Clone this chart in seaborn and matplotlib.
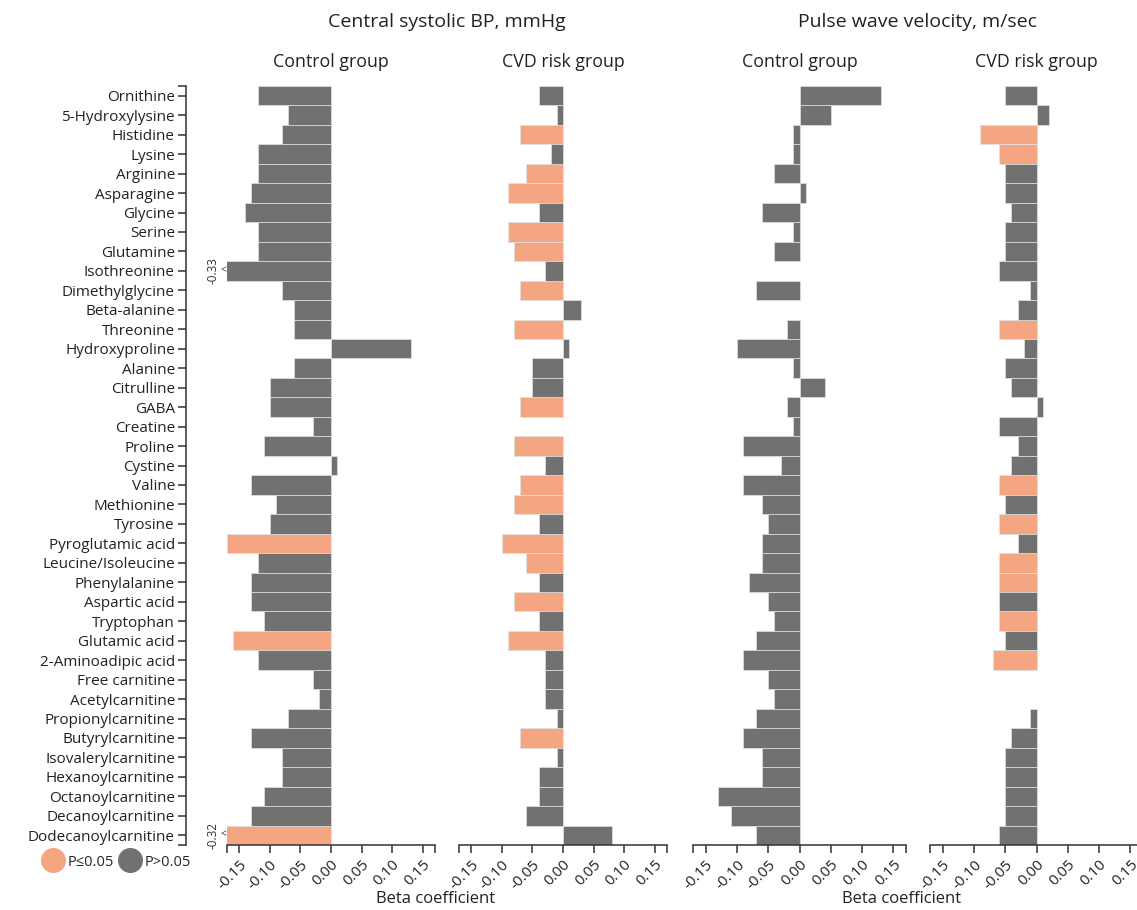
import numpy as np
import pandas as pd
import seaborn as sns
import matplotlib.pyplot as plt
from matplotlib.lines import Line2D

# metabolites, top to bottom
metabolites = [
    'Ornithine', '5-Hydroxylysine', 'Histidine', 'Lysine', 'Arginine', 'Asparagine',
    'Glycine', 'Serine', 'Glutamine', 'Isothreonine', 'Dimethylglycine', 'Beta-alanine',
    'Threonine', 'Hydroxyproline', 'Alanine', 'Citrulline', 'GABA', 'Creatine', 'Proline',
    'Cystine', 'Valine', 'Methionine', 'Tyrosine', 'Pyroglutamic acid', 'Leucine/Isoleucine',
    'Phenylalanine', 'Aspartic acid', 'Tryptophan', 'Glutamic acid', '2-Aminoadipic acid',
    'Free carnitine', 'Acetylcarnitine', 'Propionylcarnitine', 'Butyrylcarnitine',
    'Isovalerylcarnitine', 'Hexanoylcarnitine', 'Octanoylcarnitine', 'Decanoylcarnitine',
    'Dodecanoylcarnitine',
]

nan = np.nan

# Central systolic BP, control group
csbp_control = [-0.12, -0.07, -0.08, -0.12, -0.12, -0.13, -0.14, -0.12, -0.12, -0.33,
                -0.08, -0.06, -0.06, 0.13, -0.06, -0.10, -0.10, -0.03, -0.11, 0.01,
                -0.13, -0.09, -0.10, -0.17, -0.12, -0.13, -0.13, -0.11, -0.16, -0.12,
                -0.03, -0.02, -0.07, -0.13, -0.08, -0.08, -0.11, -0.13, -0.32]
csbp_control_sig = [0, 0, 0, 0, 0, 0, 0, 0, 0, 0, 0, 0, 0, 0, 0, 0, 0, 0, 0, 0,
                    0, 0, 0, 1, 0, 0, 0, 0, 1, 0, 0, 0, 0, 0, 0, 0, 0, 0, 1]

# Central systolic BP, CVD risk group
csbp_cvd = [-0.04, -0.01, -0.07, -0.02, -0.06, -0.09, -0.04, -0.09, -0.08, -0.03,
            -0.07, 0.03, -0.08, 0.01, -0.05, -0.05, -0.07, nan, -0.08, -0.03,
            -0.07, -0.08, -0.04, -0.10, -0.06, -0.04, -0.08, -0.04, -0.09, -0.03,
            -0.03, -0.03, -0.01, -0.07, -0.01, -0.04, -0.04, -0.06, 0.08]
csbp_cvd_sig = [0, 0, 1, 0, 1, 1, 0, 1, 1, 0, 1, 0, 1, 0, 0, 0, 1, 0, 1, 0,
                1, 1, 0, 1, 1, 0, 1, 0, 1, 0, 0, 0, 0, 1, 0, 0, 0, 0, 0]

# Pulse wave velocity, control group
pwv_control = [0.13, 0.05, -0.01, -0.01, -0.04, 0.01, -0.06, -0.01, -0.04, nan,
               -0.07, nan, -0.02, -0.10, -0.01, 0.04, -0.02, -0.01, -0.09, -0.03,
               -0.09, -0.06, -0.05, -0.06, -0.06, -0.08, -0.05, -0.04, -0.07, -0.09,
               -0.05, -0.04, -0.07, -0.09, -0.06, -0.06, -0.13, -0.11, -0.07]
pwv_control_sig = [0] * 39

# Pulse wave velocity, CVD risk group
pwv_cvd = [-0.05, 0.02, -0.09, -0.06, -0.05, -0.05, -0.04, -0.05, -0.05, -0.06,
           -0.01, -0.03, -0.06, -0.02, -0.05, -0.04, 0.01, -0.06, -0.03, -0.04,
           -0.06, -0.05, -0.06, -0.03, -0.06, -0.06, -0.06, -0.06, -0.05, -0.07,
           nan, nan, -0.01, -0.04, -0.05, -0.05, -0.05, -0.05, -0.06]
pwv_cvd_sig = [0, 0, 1, 1, 0, 0, 0, 0, 0, 0, 0, 0, 1, 0, 0, 0, 0, 0, 0, 0,
               1, 0, 1, 0, 1, 1, 0, 1, 0, 1, 0, 0, 0, 0, 0, 0, 0, 0, 0]

x_ticks = [-0.15, -0.10, -0.05, 0.00, 0.05, 0.10, 0.15]
x_lim = (-0.17, 0.17)
sig_labels = ['P≤0.05', 'P>0.05']
colors = {'P≤0.05': '#f4a582', 'P>0.05': '#717171'}

sns.set_style('white')
plt.rcParams['font.family'] = ['Open Sans', 'DejaVu Sans']
plt.rcParams['axes.edgecolor'] = '#333333'
plt.rcParams['axes.linewidth'] = 1.1

W, H = 1137, 910
fig = plt.figure(figsize=(W / 100, H / 100), dpi=100)

top, bottom = 86, 845
panels = [
    (227, 208, csbp_control, csbp_control_sig),
    (459, 208, csbp_cvd, csbp_cvd_sig),
    (693, 213, pwv_control, pwv_control_sig),
    (930, 213, pwv_cvd, pwv_cvd_sig),
]
sub_titles = ['Control group', 'CVD risk group', 'Control group', 'CVD risk group']

for i, (left, width, vals, sig) in enumerate(panels):
    ax = fig.add_axes([left / W, 1 - bottom / H, width / W, (bottom - top) / H])
    df = pd.DataFrame({
        'metabolite': metabolites,
        'beta': vals,
        'sig': [sig_labels[0] if s else sig_labels[1] for s in sig],
    })
    sns.barplot(data=df, x='beta', y='metabolite', hue='sig', order=metabolites,
                hue_order=sig_labels, palette=colors, dodge=False, width=1.0,
                saturation=1, edgecolor='#e2e2e2', linewidth=0.5, errorbar=None,
                legend=False, ax=ax)
    ax.set_xlim(*x_lim)
    ax.set_ylim(len(metabolites) - 0.5, -0.5)
    ax.set_xlabel('')
    ax.set_ylabel('')
    ax.set_xticks(x_ticks)
    ax.set_xticklabels(['%.2f' % t for t in x_ticks], rotation=45, ha='right',
                       rotation_mode='anchor', fontsize=11, color='#222222')
    ax.set_xticks(list(x_lim), minor=True)
    ax.tick_params(axis='x', which='both', bottom=True, length=6, width=1.1,
                   color='#333333', pad=3)
    for s in ['top', 'right']:
        ax.spines[s].set_visible(False)

    if i == 0:
        ax.spines['left'].set_position(('outward', 29.5))
        ax.set_yticks(range(len(metabolites)))
        ax.set_yticklabels(metabolites, fontsize=11, color='#222222')
        ax.set_yticks([-0.5, len(metabolites) - 0.5], minor=True)
        ax.tick_params(axis='y', which='both', left=True, length=6, width=1.1,
                       color='#333333', pad=2)
    else:
        ax.spines['left'].set_visible(False)
        ax.set_yticks([])

    # values beyond the axis range
    for j, v in enumerate(vals):
        if not np.isnan(v) and v < x_lim[0] - 0.005:
            ax.annotate('%.2f' % v, xy=(x_lim[0], j), xytext=(-14, 0),
                        textcoords='offset pixels', rotation=90, ha='center',
                        va='center', fontsize=8.5, color='#333333', annotation_clip=False)
            ax.annotate('<', xy=(x_lim[0], j), xytext=(-4, 0),
                        textcoords='offset pixels', ha='center', va='center',
                        fontsize=7.5, color='#333333', annotation_clip=False)

    fig.text((left + width / 2) / W, 1 - 62 / H, sub_titles[i], ha='center',
             va='center', fontsize=12.8, color='#222222')

fig.text(447 / W, 1 - 22 / H, 'Central systolic BP, mmHg', ha='center', va='center',
         fontsize=14, color='#222222')
fig.text(918 / W, 1 - 22 / H, 'Pulse wave velocity, m/sec', ha='center', va='center',
         fontsize=14, color='#222222')
fig.text(436 / W, 1 - 899 / H, 'Beta coefficient', ha='center', va='center',
         fontsize=12, color='#222222')
fig.text(902 / W, 1 - 899 / H, 'Beta coefficient', ha='center', va='center',
         fontsize=12, color='#222222')

handles = [Line2D([], [], marker='o', linestyle='', markersize=17,
                  markerfacecolor=colors[k], markeredgecolor=colors[k]) for k in sig_labels]
fig.legend(handles, sig_labels, loc='center left', bbox_to_anchor=(30 / W, 1 - 862 / H),
           ncol=2, frameon=False, handletextpad=0.3, columnspacing=0.4,
           fontsize=10.5, handlelength=1.4)

fig.savefig('out.png', dpi=100)
